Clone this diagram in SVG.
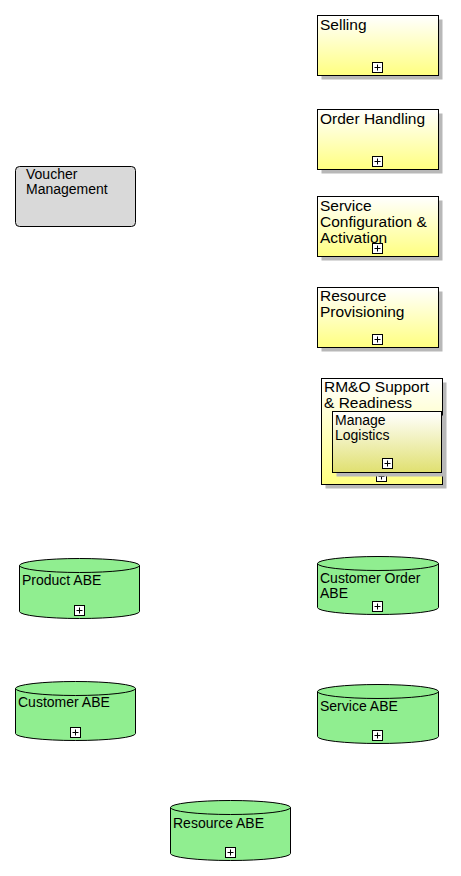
<svg xmlns="http://www.w3.org/2000/svg" width="461" height="876" viewBox="0 0 461 876">
<defs>
<linearGradient id="yel" x1="0" y1="0" x2="0" y2="1">
<stop offset="0" stop-color="#ffffff"/>
<stop offset="1" stop-color="#ffff80"/>
</linearGradient>
<linearGradient id="olive" x1="0" y1="0" x2="0" y2="1">
<stop offset="0" stop-color="#ffffff"/>
<stop offset="1" stop-color="#e0e070"/>
</linearGradient>
<g id="plus">
<rect x="-5" y="-5" width="10" height="10" fill="#ffffff" stroke="#000000" stroke-width="1"/>
<path d="M-3 0H3M0 -3V3" stroke="#000000" stroke-width="1"/>
</g>
</defs>
<style>
.box{fill:url(#yel);stroke:#000;stroke-width:1}
.shadow{fill:#b8b8b8}
.t{font-family:"Liberation Sans",Arial,sans-serif;font-size:15.5px;fill:#000}
.s{font-family:"Liberation Sans",Arial,sans-serif;font-size:14px;fill:#000}
.cyl{fill:#90ee90;stroke:#000;stroke-width:1}
</style>
<rect width="461" height="876" fill="#ffffff"/>
<g id="connectors"></g>

<g id="selling">
<rect class="shadow" x="321.5" y="19.5" width="121" height="60"/>
<rect class="box" x="317.5" y="15.5" width="121" height="60"/>
<text class="t" x="320" y="30">Selling</text>
<use href="#plus" x="377.5" y="67.5"/>
</g>

<g id="order-handling">
<rect class="shadow" x="321.5" y="113.5" width="121" height="60"/>
<rect class="box" x="317.5" y="109.5" width="121" height="60"/>
<text class="t" x="320" y="124">Order Handling</text>
<use href="#plus" x="377.5" y="161.5"/>
</g>

<g id="service-config">
<rect class="shadow" x="321.5" y="200.5" width="121" height="60"/>
<rect class="box" x="317.5" y="196.5" width="121" height="60"/>
<text class="t" x="320" y="211">Service</text>
<text class="t" x="320" y="227">Configuration &amp;</text>
<text class="t" x="320" y="243">Activation</text>
<use href="#plus" x="377.5" y="248.5"/>
</g>

<g id="resource-provisioning">
<rect class="shadow" x="321.5" y="291.5" width="121" height="60"/>
<rect class="box" x="317.5" y="287.5" width="121" height="60"/>
<text class="t" x="320" y="301">Resource</text>
<text class="t" x="320" y="317">Provisioning</text>
<use href="#plus" x="377.5" y="339.5"/>
</g>

<g id="rmo-support">
<rect class="shadow" x="325.5" y="382.5" width="121" height="106"/>
<rect class="box" x="321.5" y="378.5" width="121" height="106"/>
<text class="t" x="324" y="392">RM&amp;O Support</text>
<text class="t" x="324" y="408">&amp; Readiness</text>
<use href="#plus" x="381.5" y="476.5"/>
<g id="manage-logistics">
<rect class="shadow" x="336.5" y="415.5" width="109" height="61"/>
<rect x="332.5" y="411.5" width="109" height="61" fill="url(#olive)" stroke="#000" stroke-width="1"/>
<text class="s" x="335" y="425">Manage</text>
<text class="s" x="335" y="440">Logistics</text>
<use href="#plus" x="387.5" y="463.5"/>
</g>
</g>

<g id="voucher-management">
<rect x="15.5" y="166.5" width="120" height="60" rx="4" ry="4" fill="#d9d9d9" stroke="#000" stroke-width="1"/>
<text class="s" x="26" y="179">Voucher</text>
<text class="s" x="26" y="194">Management</text>
</g>

<g id="product-abe">
<path class="cyl" d="M19.5 565.5A60 7 0 0 1 139.5 565.5V611.5A60 7 0 0 1 19.5 611.5Z"/>
<path d="M19.5 565.5A60 7 0 0 0 139.5 565.5" fill="none" stroke="#000"/>
<text class="s" x="22" y="585">Product ABE</text>
<use href="#plus" x="79.5" y="610.5"/>
</g>

<g id="customer-abe">
<path class="cyl" d="M15.5 688.5A60 7 0 0 1 135.5 688.5V733.5A60 7 0 0 1 15.5 733.5Z"/>
<path d="M15.5 688.5A60 7 0 0 0 135.5 688.5" fill="none" stroke="#000"/>
<text class="s" x="18" y="707">Customer ABE</text>
<use href="#plus" x="75.5" y="732.5"/>
</g>

<g id="customer-order-abe">
<path class="cyl" d="M317.5 563.5A60.5 7 0 0 1 438.5 563.5V607.5A60.5 7 0 0 1 317.5 607.5Z"/>
<path d="M317.5 563.5A60.5 7 0 0 0 438.5 563.5" fill="none" stroke="#000"/>
<text class="s" x="320" y="583">Customer Order</text>
<text class="s" x="320" y="598">ABE</text>
<use href="#plus" x="377.5" y="606.5"/>
</g>

<g id="service-abe">
<path class="cyl" d="M317.5 691.5A60.5 7 0 0 1 438.5 691.5V736.5A60.5 7 0 0 1 317.5 736.5Z"/>
<path d="M317.5 691.5A60.5 7 0 0 0 438.5 691.5" fill="none" stroke="#000"/>
<text class="s" x="320" y="711">Service ABE</text>
<use href="#plus" x="377.5" y="735.5"/>
</g>

<g id="resource-abe">
<path class="cyl" d="M170.5 807.5A60 7 0 0 1 290.5 807.5V853.5A60 7 0 0 1 170.5 853.5Z"/>
<path d="M170.5 807.5A60 7 0 0 0 290.5 807.5" fill="none" stroke="#000"/>
<text class="s" x="173" y="828">Resource ABE</text>
<use href="#plus" x="230.5" y="852.5"/>
</g>
</svg>
